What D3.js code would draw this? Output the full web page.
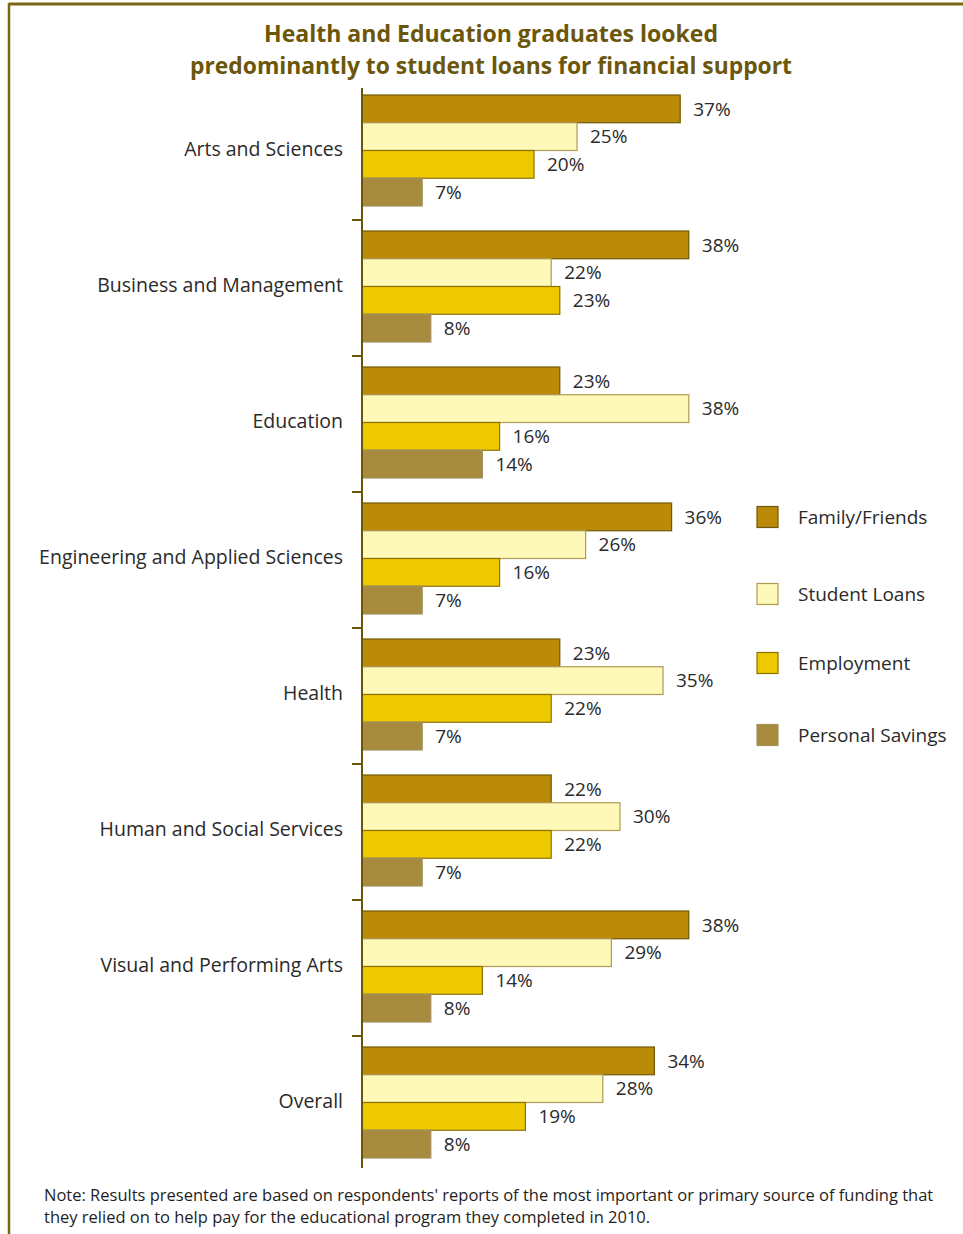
<!DOCTYPE html>
<html>
<head>
<meta charset="utf-8">
<script src="https://cdn.jsdelivr.net/npm/d3@7"></script>
<style>
  html, body { margin: 0; padding: 0; background: #fff; }
  svg { display: block; font-family: "Open Sans", "Noto Sans", sans-serif; }
</style>
</head>
<body>
<svg id="chart" width="963" height="1234"></svg>
<script>
// Primary source of funding, by field of study (percent of graduates)
const categories = [
  "Arts and Sciences",
  "Business and Management",
  "Education",
  "Engineering and Applied Sciences",
  "Health",
  "Human and Social Services",
  "Visual and Performing Arts",
  "Overall"
];
const seriesNames = ["Family/Friends", "Student Loans", "Employment", "Personal Savings"];
const familyFriends   = [37, 38, 23, 36, 23, 22, 38, 34];
const studentLoans    = [25, 22, 38, 26, 35, 30, 29, 28];
const employment      = [20, 23, 16, 16, 22, 22, 14, 19];
const personalSavings = [7, 8, 14, 7, 7, 7, 8, 8];
const seriesValues = [familyFriends, studentLoans, employment, personalSavings];

const fills   = ["#bb8a08", "#fef8b9", "#efc900", "#a78b3e"];
const strokes = ["#6e5a06", "#b09a55", "#8a7206", "#a39060"];

const titleLines = [
  "Health and Education graduates looked",
  "predominantly to student loans for financial support"
];
const noteLines = [
  "Note: Results presented are based on respondents' reports of the most important or primary source of funding that",
  "they relied on to help pay for the educational program they completed in 2010."
];

const svg = d3.select("#chart");
const gold = "#7a6512";
const axisColor = "#6b5604";

// frame: top rule and left rule
svg.append("line").attr("x1", 9).attr("x2", 963).attr("y1", 4).attr("y2", 4)
  .attr("stroke", gold).attr("stroke-width", 3);
svg.append("line").attr("x1", 9).attr("x2", 9).attr("y1", 3).attr("y2", 1234)
  .attr("stroke", gold).attr("stroke-width", 2.5);

// title
svg.append("g").selectAll("text").data(titleLines).join("text")
  .attr("x", 491).attr("y", (d, i) => 42 + i * 32)
  .attr("text-anchor", "middle")
  .attr("font-weight", "bold").attr("font-size", 24)
  .attr("fill", "#6b560a")
  .attr("textLength", (d, i) => i === 0 ? 454 : 602)
  .attr("lengthAdjust", "spacingAndGlyphs")
  .text(d => d);

// scales
const x = d3.scaleLinear().domain([0, 40]).range([362, 706]);
const y = d3.scaleBand().domain(categories).range([84, 1172]).paddingInner(0).paddingOuter(0);
const inner = d3.scaleBand().domain(seriesNames).range([11, 122]);

// bars
const groups = svg.append("g").selectAll("g").data(categories).join("g")
  .attr("transform", d => `translate(0,${y(d)})`);

groups.each(function(cat, ci) {
  const g = d3.select(this);
  const rows = seriesNames.map((s, si) => ({ s, si, v: seriesValues[si][ci] }));
  g.selectAll("rect").data(rows).join("rect")
    .attr("x", x(0))
    .attr("y", d => inner(d.s))
    .attr("width", d => x(d.v) - x(0))
    .attr("height", inner.bandwidth())
    .attr("fill", d => fills[d.si])
    .attr("stroke", d => strokes[d.si])
    .attr("stroke-width", 1.2);
  g.selectAll("text.val").data(rows).join("text")
    .attr("class", "val")
    .attr("x", d => x(d.v) + 13)
    .attr("y", d => inner(d.s) + inner.bandwidth() / 2)
    .attr("dy", "0.36em")
    .attr("font-size", 19)
    .attr("fill", "#2a2a2a")
    .text(d => d.v + "%");
});

// category labels
svg.append("g").selectAll("text").data(categories).join("text")
  .attr("x", 343)
  .attr("y", d => y(d) + 65)
  .attr("dy", "0.36em")
  .attr("text-anchor", "end")
  .attr("font-size", 19.5)
  .attr("fill", "#2a2a2a")
  .text(d => d);

// axis line and separator ticks
svg.append("line")
  .attr("x1", x(0)).attr("x2", x(0))
  .attr("y1", y.range()[0] + 4).attr("y2", y.range()[1] - 4)
  .attr("stroke", axisColor).attr("stroke-width", 2);
svg.append("g").selectAll("line").data(categories.slice(1)).join("line")
  .attr("x1", x(0) - 10).attr("x2", x(0))
  .attr("y1", d => y(d)).attr("y2", d => y(d))
  .attr("stroke", axisColor).attr("stroke-width", 2);

// legend
const legendY = [517, 594, 663, 735];
const legend = svg.append("g").selectAll("g").data(seriesNames).join("g")
  .attr("transform", (d, i) => `translate(757,${legendY[i]})`);
legend.append("rect")
  .attr("x", 0).attr("y", -10.5).attr("width", 21).attr("height", 21)
  .attr("fill", (d, i) => fills[i])
  .attr("stroke", (d, i) => strokes[i]).attr("stroke-width", 1.2);
legend.append("text")
  .attr("x", 41).attr("y", 0).attr("dy", "0.36em")
  .attr("font-size", 19).attr("fill", "#2a2a2a")
  .text(d => d);

// note
svg.append("g").selectAll("text").data(noteLines).join("text")
  .attr("x", 44).attr("y", (d, i) => 1201 + i * 22)
  .attr("font-size", 16.5).attr("fill", "#1e1e1e")
  .text(d => d);
</script>
</body>
</html>
